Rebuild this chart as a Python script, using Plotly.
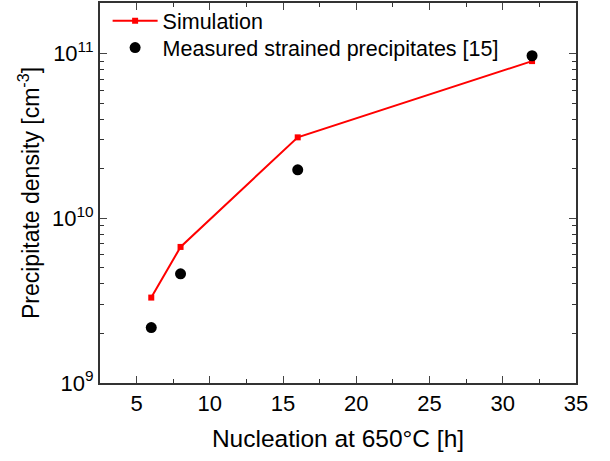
import plotly.graph_objects as go

sim_x = [6, 8, 16, 32]
sim_y = [3.3e9, 6.7e9, 3.1e10, 9.0e10]
meas_x = [6, 8, 16, 32]
meas_y = [2.17e9, 4.6e9, 1.97e10, 9.7e10]
y_tickvals = [1e9, 1e10, 1e11]
y_ticktext = ["10<sup>9</sup>", "10<sup>10</sup>", "10<sup>11</sup>"]

fig = go.Figure()
fig.add_trace(go.Scatter(x=sim_x, y=sim_y, mode="lines+markers", name="Simulation",
                         line=dict(color="#ff0000", width=2),
                         marker=dict(symbol="square", size=6, color="#ff0000"),
                         legend="legend"))
fig.add_trace(go.Scatter(x=meas_x, y=meas_y, mode="markers", name="Measured strained precipitates [15]",
                         marker=dict(symbol="circle", size=11, color="black"),
                         legend="legend2"))

font = "Liberation Sans, Arial, sans-serif"
leg_common = dict(xanchor="left", yanchor="middle", bgcolor="rgba(0,0,0,0)",
                  font=dict(size=21.5), itemwidth=45)
fig.update_layout(
    width=610, height=461,
    margin=dict(l=100, r=34, t=0, b=78),
    paper_bgcolor="white", plot_bgcolor="white",
    font=dict(family=font, size=22, color="black"),
    showlegend=True,
    legend=dict(x=0.016, y=1 - 18 / 383, **leg_common),
    legend2=dict(x=0.016, y=1 - 45 / 383, **leg_common),
    xaxis=dict(range=[2.5, 35], tick0=5, dtick=5, ticks="inside", ticklen=7, tickwidth=1.2,
               showline=True, linecolor="#333", linewidth=2, mirror="allticks",
               showgrid=False, zeroline=False, automargin=False,
               minor=dict(ticks="inside", ticklen=4, dtick=2.5, tick0=2.5, tickcolor="#333"),
               title=dict(text="Nucleation at 650°C [h]", font=dict(size=24.5), standoff=14),
               tickfont=dict(size=22)),
    yaxis=dict(type="log", range=[9, 11.307], tickvals=y_tickvals, ticktext=y_ticktext,
               ticks="inside", ticklen=7, tickwidth=1.2,
               showline=True, linecolor="#333", linewidth=2, mirror="allticks",
               showgrid=False, zeroline=False, automargin=False,
               minor=dict(ticks="inside", ticklen=4, tickcolor="#333",
                          tickvals=[2e9, 3e9, 4e9, 5e9, 6e9, 7e9, 8e9, 9e9,
                                    2e10, 3e10, 4e10, 5e10, 6e10, 7e10, 8e10, 9e10,
                                    2e11]),
               title=dict(text="Precipitate density [cm<sup>-3</sup>]", font=dict(size=23), standoff=6),
               tickfont=dict(size=22)),
)
fig.write_html("out.html", post_script="document.body.style.margin='0';",
               config={"displayModeBar": False})
